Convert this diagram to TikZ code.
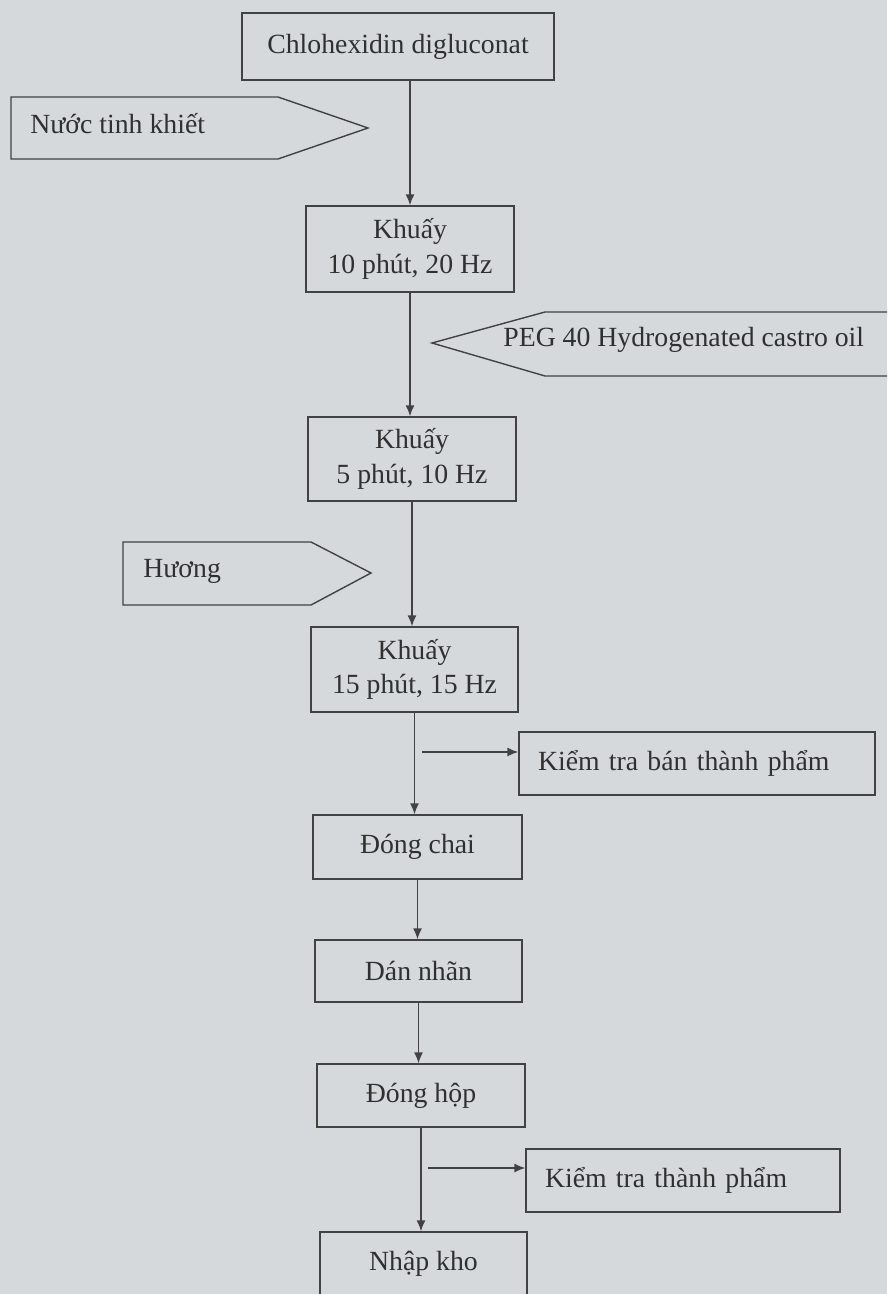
\documentclass[tikz,border=0pt]{standalone}
\usepackage{fontspec}
\setmainfont{Liberation Serif}
\usepackage{xcolor}
\usepackage{tikz}
\usetikzlibrary{arrows.meta,positioning,calc}

\definecolor{paper}{RGB}{214,217,219}
\definecolor{ink}{RGB}{66,66,66}
\definecolor{inktext}{RGB}{48,48,48}

\tikzset{
  procbox/.style={draw=ink, line width=0.8pt, text=inktext, align=center,
    inner sep=0pt, font=\fontsize{15.8}{19.5}\selectfont},
  checkbox/.style={procbox, align=left, inner xsep=0.38cm},
  feedtext/.style={text=inktext, inner sep=0pt, font=\fontsize{15.8}{19.5}\selectfont},
  feedshape/.style={draw=ink, line width=0.8pt},
  flowline/.style={draw=ink, line width=0.8pt, -{Latex[length=2.2mm,width=1.8mm]}},
}

\begin{document}
\begin{tikzpicture}[x=0.02cm, y=-0.02cm]

% Background
\fill[paper] (0,0) rectangle (887,1294);
\clip (0,0) rectangle (887,1294);

% Main process boxes
\node[procbox, minimum width=6.24cm, minimum height=1.34cm] (chlo) at (398,46.5) {Chlohexidin digluconat};
\node[procbox, minimum width=4.16cm, minimum height=1.72cm] (mix1) at (410,249) {Khuấy\\10 phút, 20 Hz};
\node[procbox, minimum width=4.16cm, minimum height=1.68cm] (mix2) at (412,459) {Khuấy\\5 phút, 10 Hz};
\node[procbox, minimum width=4.14cm, minimum height=1.70cm] (mix3) at (414.5,669.5) {Khuấy\\15 phút, 15 Hz};
\node[procbox, minimum width=4.18cm, minimum height=1.28cm] (bottle) at (417.5,847) {Đóng chai};
\node[procbox, minimum width=4.14cm, minimum height=1.24cm] (label) at (418.5,971) {Dán nhãn};
\node[procbox, minimum width=4.16cm, minimum height=1.26cm] (boxing) at (421,1095.5) {Đóng hộp};
\node[procbox, minimum width=4.14cm, minimum height=1.28cm] (store) at (423.5,1264) {Nhập kho};

% Check boxes
\node[checkbox, text width=6.36cm, minimum height=1.26cm] (semicheck) at (697,763.5) {Kiểm tra bán thành phẩm};
\node[checkbox, text width=5.52cm, minimum height=1.26cm] (finalcheck) at (683,1180.5) {Kiểm tra thành phẩm};

% Added materials
\draw[feedshape] (11,97) -- (278,97) -- (368,128) -- (278,159) -- (11,159) -- cycle;
\node[feedtext, anchor=west] (water) at (30,124) {Nước tinh khiết};

\draw[feedshape] (900,312) -- (545,312) -- (432,343) -- (545,376) -- (900,376);
\node[feedtext, anchor=west] (peg) at (503,340) {PEG 40 Hydrogenated castro oil};

\draw[feedshape] (123,542) -- (311,542) -- (371,573) -- (311,605) -- (123,605) -- cycle;
\node[feedtext, anchor=west] (aroma) at (143,571) {Hương};

% Flow
\draw[flowline] (chlo.south -| mix1.north) -- (mix1.north);
\draw[flowline] (mix1.south) -- (mix1.south |- mix2.north);
\draw[flowline] (mix2.south) -- (mix2.south |- mix3.north);
\draw[flowline] (mix3.south) -- (mix3.south |- bottle.north);
\draw[flowline] (bottle.south) -- (bottle.south |- label.north);
\draw[flowline] (label.south) -- (label.south |- boxing.north);
\draw[flowline] (boxing.south) -- (boxing.south |- store.north);

% Branches to checks
\coordinate (br1) at (422,752);
\coordinate (br2) at (428,1168);
\draw[flowline] (br1) -- (br1 -| semicheck.west);
\draw[flowline] (br2) -- (br2 -| finalcheck.west);

\end{tikzpicture}
\end{document}
